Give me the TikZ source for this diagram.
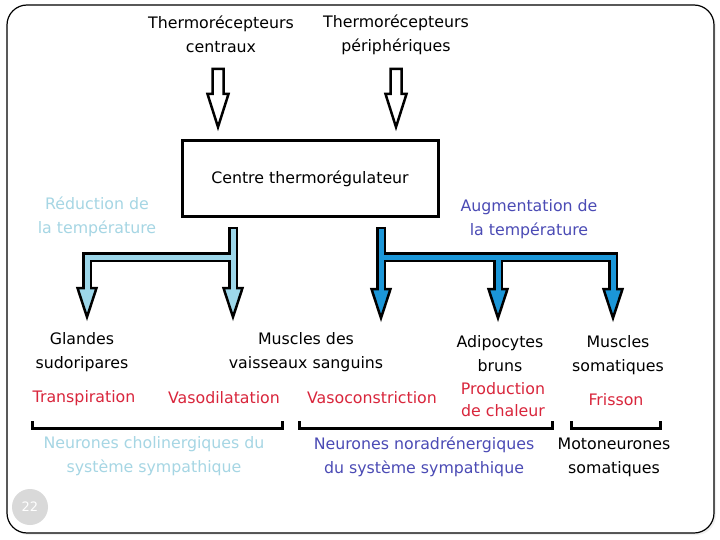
\documentclass[tikz,border=0pt]{standalone}
\usepackage{fontspec}
\setmainfont{DejaVu Sans}
\usetikzlibrary{positioning}
\usetikzlibrary{calc}
\definecolor{paleblue}{RGB}{157,215,234}
\definecolor{deepblue}{RGB}{27,150,216}
\definecolor{inkblue}{RGB}{75,75,181}
\definecolor{softblue}{RGB}{166,214,228}
\definecolor{warmred}{RGB}{217,38,60}
\tikzstyle{every node}=[font=\fontsize{15.8}{24}\selectfont,align=center,inner sep=0pt]
\tikzstyle{every path}=[line join=miter]
\tikzstyle{hollow}=[draw=black,fill=white,line width=2.5]
\tikzstyle{centrebox}=[draw=black,line width=3,minimum width=256,minimum height=76]
\tikzstyle{shaftout}=[draw=black,line width=10.5]
\tikzstyle{bracket}=[draw=black,line width=3]
\tikzstyle{effect}=[text=warmred]
\newcommand\hollowarrow[2]{\draw[hollow] ($(#1)+(-5.5,0)$) -- ($(#2)+(-5.5,-33)$) --
  ($(#2)+(-10.5,-33)$) -- (#2) -- ($(#2)+(10.5,-33)$) -- ($(#2)+(5.5,-33)$) --
  ($(#1)+(5.5,0)$) -- cycle;}
\newcommand\headat[2]{\draw[draw=black,fill=#2,line width=2.5]
  ($(#1)+(-9.5,-29)$) -- ($(#1)+(9.5,-29)$) -- (#1) -- cycle;}
\begin{document}
\begin{tikzpicture}[x=1pt,y=-1pt]
  \useasboundingbox (0,0) rectangle (720,540);
  \fill[gray!12,rounded corners=20] (9,7) rectangle (716,535);
  \draw[line width=1.2,fill=white,rounded corners=20] (7,5) rectangle (714,533);
  \node[circle,fill=gray!30,minimum size=36,text=white,font=\fontsize{13}{15}\selectfont]
    (page) at (30,507) {22};
  %
  \node (tcent) at (221,34.5) {Thermorécepteurs\\centraux};
  \node (tperi) at (396,34.5) {Thermorécepteurs\\périphériques};
  \node[centrebox] (centre) at (310,179) {Centre thermorégulateur};
  \coordinate (tcentA) at (218,69);
  \coordinate (tcentB) at (218,127);
  \coordinate (tperiA) at (396,69);
  \coordinate (tperiB) at (396,127);
  \hollowarrow{tcentA}{tcentB}
  \hollowarrow{tperiA}{tperiB}
  %
  \node[text=softblue] (reduc) at (97,216.5) {Réduction de\\la température};
  \node[text=inkblue] (augm) at (529,219.5) {Augmentation de\\la température};
  %
  \coordinate (lsrc) at (233,227);
  \coordinate (ljoin) at (233,257);
  \coordinate (lcorner) at (87,257);
  \coordinate (ltipA) at (87,317);
  \coordinate (ltipB) at (233,317);
  \coordinate (rsrc) at (381,227);
  \coordinate (rjoin) at (381,257);
  \coordinate (rmid) at (498,257);
  \coordinate (rcorner) at (613,257);
  \coordinate (rtipA) at (381,318);
  \coordinate (rtipB) at (498,318);
  \coordinate (rtipC) at (613,318);
  \draw[shaftout] (lsrc) -- ($(ltipB)+(0,-28)$) (ljoin) -- (lcorner) -- ($(ltipA)+(0,-28)$);
  \draw[shaftout] (rsrc) -- ($(rtipA)+(0,-28)$) (rjoin) -- (rcorner) -- ($(rtipC)+(0,-28)$)
    (rmid) -- ($(rtipB)+(0,-28)$);
  \foreach \t in {ltipA,ltipB} {\headat{\t}{paleblue}}
  \foreach \t in {rtipA,rtipB,rtipC} {\headat{\t}{deepblue}}
  \draw[paleblue,line width=5] ($(lsrc)+(0,2.5)$) -- ($(ltipB)+(0,-25)$)
    (ljoin) -- (lcorner) -- ($(ltipA)+(0,-25)$);
  \draw[deepblue,line width=5] ($(rsrc)+(0,2.5)$) -- ($(rtipA)+(0,-25)$)
    (rjoin) -- (rcorner) -- ($(rtipC)+(0,-25)$) (rmid) -- ($(rtipB)+(0,-25)$);
  %
  \node (glandes) at (82,352.5) {Glandes\\sudoripares};
  \node (vaisseaux) at (306,352.5) {Muscles des\\vaisseaux sanguins};
  \node (adipo) at (500,353.5) {Adipocytes\\bruns};
  \node (somat) at (618,355) {Muscles\\somatiques};
  \node[effect] (transp) at (84,398) {Transpiration};
  \node[effect] (vasodil) at (224,398) {Vasodilatation};
  \node[effect] (vasocon) at (372,398) {Vasoconstriction};
  \node[effect,font=\fontsize{15.8}{22}\selectfont] (prod) at (503,400) {Production\\de chaleur};
  \node[effect] (frisson) at (616,400) {Frisson};
  %
  \draw[bracket] (32,421) -- (32,428) -- (282,428) -- (282,421);
  \draw[bracket] (299,421) -- (299,428) -- (552,428) -- (552,421);
  \draw[bracket] (571,421) -- (571,428) -- (660,428) -- (660,421);
  \node[text=softblue] (cholin) at (154,456.5) {Neurones cholinergiques du\\système sympathique};
  \node[text=inkblue] (noradr) at (424,456.5) {Neurones noradrénergiques\\du système sympathique};
  \node (moto) at (614,457.5) {Motoneurones\\somatiques};
\end{tikzpicture}
\end{document}
